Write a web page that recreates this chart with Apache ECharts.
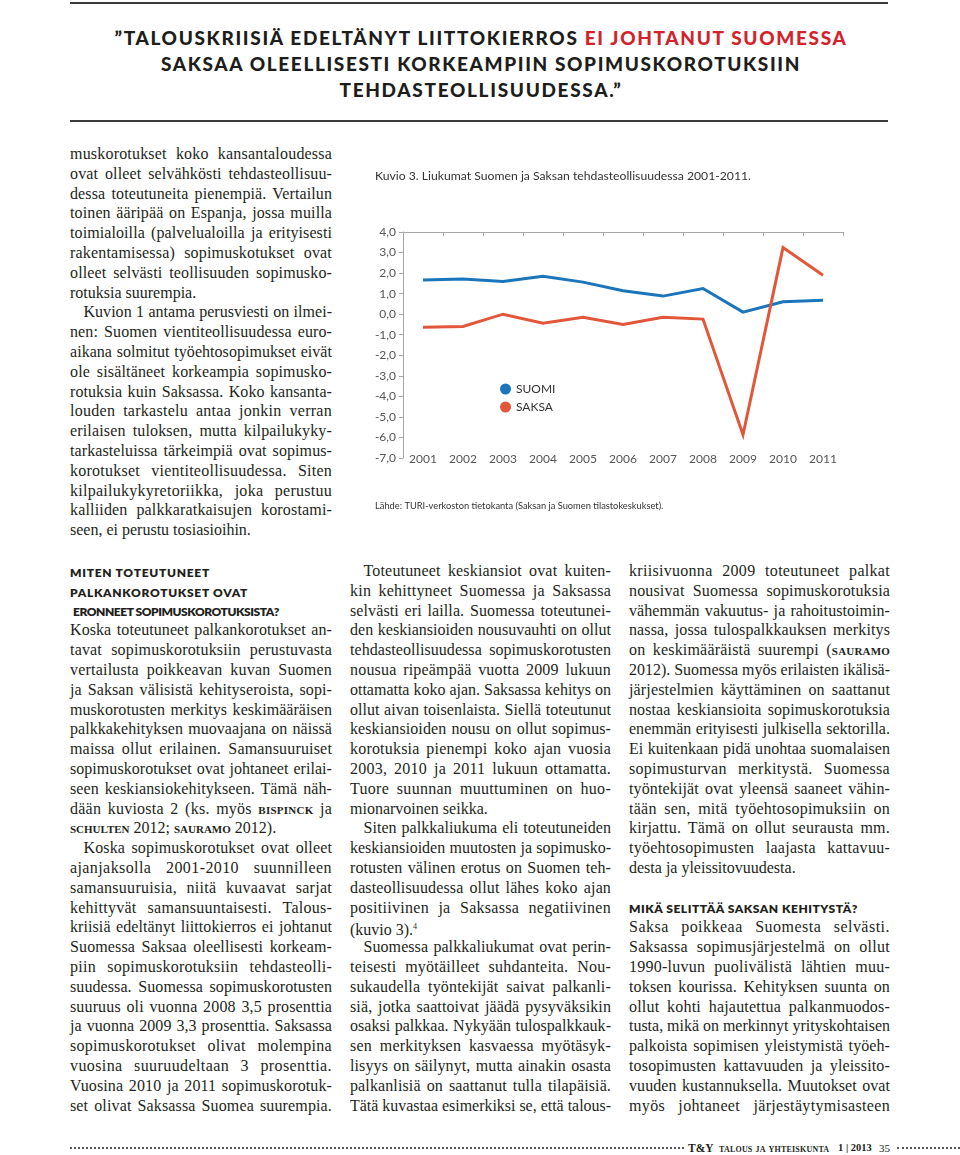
<!DOCTYPE html>
<html><head><meta charset="utf-8">
<script src="https://cdn.jsdelivr.net/npm/echarts@6/dist/echarts.min.js"></script>
<style>
html,body{margin:0;padding:0;background:#fff;}
body{width:960px;height:1155px;position:relative;overflow:hidden;}
.rule{position:absolute;left:70px;width:818px;background:#3a3a3a;}
.ln{position:absolute;white-space:nowrap;height:19.8px;line-height:19.8px;font-family:"Liberation Serif";font-size:16px;color:#231f20;}
.ln>span{display:inline-block;transform-origin:0 50%;}
.hd{font-family:Lato;font-weight:800;font-size:12px;color:#231f20;}
.sc{font-variant:small-caps;font-weight:bold;}
.top{position:absolute;left:0;width:962px;text-align:center;white-space:nowrap;font-family:Lato;font-weight:900;font-size:19px;line-height:26px;height:26px;color:#1d1d1b;}
.top>span{display:inline-block;}
.red{color:#d2232a;}
#chart{position:absolute;left:370px;top:160px;width:490px;height:370px;}
.dots{position:absolute;top:1147px;height:0;border-top:2px dotted #555;}
.ft{position:absolute;top:1140px;font-family:"Liberation Serif";font-size:11px;color:#231f20;line-height:16px;white-space:nowrap;}
</style></head>
<body>
<div class="rule" style="top:2px;height:2px;"></div>
<div class="rule" style="top:120px;height:1.5px;"></div>
<div class="top" style="top:25px;"><span data-w="733">”TALOUSKRIISIÄ EDELTÄNYT LIITTOKIERROS <span class="red">EI JOHTANUT SUOMESSA</span></span></div>
<div class="top" style="top:51px;"><span data-w="640">SAKSAA OLEELLISESTI KORKEAMPIIN SOPIMUSKOROTUKSIIN</span></div>
<div class="top" style="top:77px;"><span data-w="283">TEHDASTEOLLISUUDESSA.”</span></div>
<div id="chart"></div>
<div class="dots" style="left:70px;width:614px;"></div>
<div class="dots" style="left:897px;width:63px;"></div>
<div class="ft" style="left:688px;font-weight:bold;font-size:11.5px;">T&amp;Y</div>
<div class="ft" style="left:719px;font-weight:bold;font-variant:small-caps;font-size:11px;letter-spacing:0.2px;">talous ja yhteiskunta</div>
<div class="ft" style="left:838px;font-weight:bold;font-size:10.5px;">1 | 2013</div>
<div class="ft" style="left:879px;font-size:11px;">35</div>
<script>
// ---------- chart data ----------
const years = ['2001','2002','2003','2004','2005','2006','2007','2008','2009','2010','2011'];
const suomi = [1.66, 1.71, 1.59, 1.84, 1.56, 1.14, 0.88, 1.25, 0.10, 0.60, 0.68];
const saksa = [-0.63, -0.60, 0.00, -0.44, -0.15, -0.50, -0.15, -0.24, -5.87, 3.24, 1.89];
const seriesNames = ['SUOMI', 'SAKSA'];
const yMin = -7, yMax = 4, yStep = 1;
const chartTitle = 'Kuvio 3. Liukumat Suomen ja Saksan tehdasteollisuudessa 2001-2011.';
const sourceText = 'Lähde: TURI-verkoston tietokanta (Saksan ja Suomen tilastokeskukset).';

// ---------- page text ----------
const colTopLeft = {x:70, y:156, w:262, lines:[
'j:muskorotukset koko kansantaloudessa',
'j:ovat olleet selvähkösti tehdasteollisuu-',
'j:dessa toteutuneita pienempiä. Vertailun',
'j:toinen ääripää on Espanja, jossa muilla',
'j:toimialoilla (palvelualoilla ja erityisesti',
'j:rakentamisessa) sopimuskotukset ovat',
'j:olleet selvästi teollisuuden sopimusko-',
'l:rotuksia suurempia.',
'i:Kuvion 1 antama perusviesti on ilmei-',
'j:nen: Suomen vientiteollisuudessa euro-',
'j:aikana solmitut työehtosopimukset eivät',
'j:ole sisältäneet korkeampia sopimusko-',
'j:rotuksia kuin Saksassa. Koko kansanta-',
'j:louden tarkastelu antaa jonkin verran',
'j:erilaisen tuloksen, mutta kilpailukyky-',
'j:tarkasteluissa tärkeimpiä ovat sopimus-',
'j:korotukset vientiteollisuudessa. Siten',
'j:kilpailukykyretoriikka, joka perustuu',
'j:kalliiden palkkaratkaisujen korostami-',
'l:seen, ei perustu tosiasioihin.'
]};
const colB1 = {x:70, y:573, w:262, lines:[
'h140:MITEN TOTEUTUNEET',
'h178:PALKANKOROTUKSET OVAT',
'H206:ERONNEET SOPIMUSKOROTUKSISTA?',
'j:Koska toteutuneet palkankorotukset an-',
'j:tavat sopimuskorotuksiin perustuvasta',
'j:vertailusta poikkeavan kuvan Suomen',
'j:ja Saksan välisistä kehityseroista, sopi-',
'j:muskorotusten merkitys keskimääräisen',
'j:palkkakehityksen muovaajana on näissä',
'j:maissa ollut erilainen. Samansuuruiset',
'j:sopimuskorotukset ovat johtaneet erilai-',
'j:seen keskiansiokehitykseen. Tämä näh-',
'j:dään kuviosta 2 (ks. myös <span class="sc">bispinck</span> ja',
'l:<span class="sc">schulten</span> 2012; <span class="sc">sauramo</span> 2012).',
'i:Koska sopimuskorotukset ovat olleet',
'j:ajanjaksolla 2001-2010 suunnilleen',
'j:samansuuruisia, niitä kuvaavat sarjat',
'j:kehittyvät samansuuntaisesti. Talous-',
'j:kriisiä edeltänyt liittokierros ei johtanut',
'j:Suomessa Saksaa oleellisesti korkeam-',
'j:piin sopimuskorotuksiin tehdasteolli-',
'j:suudessa. Suomessa sopimuskorotusten',
'j:suuruus oli vuonna 2008 3,5 prosenttia',
'j:ja vuonna 2009 3,3 prosenttia. Saksassa',
'j:sopimuskorotukset olivat molempina',
'j:vuosina suuruudeltaan 3 prosenttia.',
'j:Vuosina 2010 ja 2011 sopimuskorotuk-',
'j:set olivat Saksassa Suomea suurempia.'
]};
const colB2 = {x:350, y:573, w:261, lines:[
'i:Toteutuneet keskiansiot ovat kuiten-',
'j:kin kehittyneet Suomessa ja Saksassa',
'j:selvästi eri lailla. Suomessa toteutunei-',
'j:den keskiansioiden nousuvauhti on ollut',
'j:tehdasteollisuudessa sopimuskorotusten',
'j:nousua ripeämpää vuotta 2009 lukuun',
'j:ottamatta koko ajan. Saksassa kehitys on',
'j:ollut aivan toisenlaista. Siellä toteutunut',
'j:keskiansioiden nousu on ollut sopimus-',
'j:korotuksia pienempi koko ajan vuosia',
'j:2003, 2010 ja 2011 lukuun ottamatta.',
'j:Tuore suunnan muuttuminen on huo-',
'l:mionarvoinen seikka.',
'i:Siten palkkaliukuma eli toteutuneiden',
'j:keskiansioiden muutosten ja sopimusko-',
'j:rotusten välinen erotus on Suomen teh-',
'j:dasteollisuudessa ollut lähes koko ajan',
'j:positiivinen ja Saksassa negatiivinen',
'l:(kuvio 3).<sup style="font-size:8px;vertical-align:6px;">4</sup>',
'i:Suomessa palkkaliukumat ovat perin-',
'j:teisesti myötäilleet suhdanteita. Nou-',
'j:sukaudella työntekijät saivat palkanli-',
'j:siä, jotka saattoivat jäädä pysyväksikin',
'j:osaksi palkkaa. Nykyään tulospalkkauk-',
'j:sen merkityksen kasvaessa myötäsyk-',
'j:lisyys on säilynyt, mutta ainakin osasta',
'j:palkanlisiä on saattanut tulla tilapäisiä.',
'j:Tätä kuvastaa esimerkiksi se, että talous-'
]};
const colB3 = {x:629, y:573, w:261, lines:[
'j:kriisivuonna 2009 toteutuneet palkat',
'j:nousivat Suomessa sopimuskorotuksia',
'j:vähemmän vakuutus- ja rahoitustoimin-',
'j:nassa, jossa tulospalkkauksen merkitys',
'j:on keskimääräistä suurempi (<span class="sc">sauramo</span>',
'j:2012). Suomessa myös erilaisten ikälisä-',
'j:järjestelmien käyttäminen on saattanut',
'j:nostaa keskiansioita sopimuskorotuksia',
'j:enemmän erityisesti julkisella sektorilla.',
'j:Ei kuitenkaan pidä unohtaa suomalaisen',
'j:sopimusturvan merkitystä. Suomessa',
'j:työntekijät ovat yleensä saaneet vähin-',
'j:tään sen, mitä työehtosopimuksiin on',
'j:kirjattu. Tämä on ollut seurausta mm.',
'j:työehtosopimusten laajasta kattavuu-',
'l:desta ja yleissitovuudesta.',
'e:',
'h229:MIKÄ SELITTÄÄ SAKSAN KEHITYSTÄ?',
'j:Saksa poikkeaa Suomesta selvästi.',
'j:Saksassa sopimusjärjestelmä on ollut',
'j:1990-luvun puolivälistä lähtien muu-',
'j:toksen kourissa. Kehityksen suunta on',
'j:ollut kohti hajautettua palkanmuodos-',
'j:tusta, mikä on merkinnyt yrityskohtaisen',
'j:palkoista sopimisen yleistymistä työeh-',
'j:tosopimusten kattavuuden ja yleissito-',
'j:vuuden kustannuksella. Muutokset ovat',
'j:myös johtaneet järjestäytymisasteen'
]};

const LH = 19.8, INDENT = 13.5;
function buildCol(col){
  col.lines.forEach((s,k)=>{
    const i = s.indexOf(':');
    const code = s.slice(0,i), html = s.slice(i+1);
    if(code==='e') return;
    const d = document.createElement('div');
    d.className = 'ln';
    const cy = col.y + k*LH;
    let left = col.x, target = col.w, mode = 'j';
    if(code==='i'){ left += INDENT; target -= INDENT; }
    if(code==='l'){ mode = 'l'; }
    if(code[0]==='h' || code[0]==='H'){
      d.classList.add('hd'); mode = 'h'; target = +code.slice(1);
      if(code[0]==='H'){ left += 3; }
      d.style.top = (cy - 10.2) + 'px';
    } else {
      d.style.top = (cy - 12.0) + 'px';
    }
    d.style.left = left + 'px';
    const sp = document.createElement('span');
    sp.innerHTML = html;
    d.appendChild(sp);
    document.body.appendChild(d);
    fitLine(sp, target, mode);
  });
}
function fitLine(sp, target, mode){
  const w = sp.getBoundingClientRect().width;
  const txt = sp.textContent;
  if(mode==='h'){
    sp.style.letterSpacing = ((target - w)/txt.length) + 'px';
    return;
  }
  if(w > target){ sp.style.transform = 'scaleX(' + (target/w) + ')'; return; }
  if(mode==='l') return;
  const extra = target - w;
  const nChars = txt.length;
  const ls = Math.min(0.4*extra/nChars, 0.8);
  sp.style.letterSpacing = ls + 'px';
  const w2 = sp.getBoundingClientRect().width;
  const spaces = (txt.match(/ /g)||[]).length;
  if(spaces>0) sp.style.wordSpacing = ((target - w2)/spaces) + 'px';
}
[colTopLeft, colB1, colB2, colB3].forEach(buildCol);
document.querySelectorAll('.top>span[data-w]').forEach(sp=>{
  const w = sp.getBoundingClientRect().width;
  sp.style.letterSpacing = ((+sp.dataset.w - w)/sp.textContent.length) + 'px';
});

// ---------- chart ----------
const chart = echarts.init(document.getElementById('chart'), null, {renderer:'canvas'});
const axisColor = '#a6a6a6';
const labelFont = 'Lato';
chart.setOption({
  animation:false,
  title:{text:chartTitle, left:5, top:10, padding:0, textStyle:{fontFamily:labelFont, fontWeight:'normal', fontSize:12.2, color:'#333'}},
  legend:{
    orient:'vertical', left:130, top:223, padding:0, itemWidth:11, itemHeight:11, itemGap:6,
    icon:'circle', data:seriesNames,
    textStyle:{fontFamily:labelFont, fontSize:12, color:'#333'}
  },
  grid:{left:33, top:72, width:440, height:226, containLabel:false},
  xAxis:[
    {type:'category', data:years, position:'bottom', boundaryGap:true,
     axisLine:{show:false}, axisTick:{show:false},
     axisLabel:{fontFamily:labelFont, fontSize:12, color:'#555', margin:1, verticalAlign:'middle', padding:[6,0,0,0]}},
    {type:'category', data:years, position:'top', boundaryGap:true,
     axisLine:{show:true, onZero:true, lineStyle:{color:axisColor, width:1}},
     axisTick:{show:true, inside:true, length:4, lineStyle:{color:axisColor}},
     axisLabel:{show:false}}
  ],
  yAxis:{type:'value', min:yMin, max:yMax, interval:yStep,
    axisLine:{show:true, lineStyle:{color:axisColor, width:1}},
    axisTick:{show:true, length:4, lineStyle:{color:axisColor}},
    splitLine:{show:false},
    axisLabel:{fontFamily:labelFont, fontSize:12, color:'#555', margin:7,
      formatter:v=>v.toFixed(1).replace('.',',')}},
  graphic:[{type:'text', left:5, top:341, style:{text:sourceText, fontFamily:labelFont, fontSize:9.3, fill:'#333'}}],
  series:[
    {name:seriesNames[0], type:'line', data:suomi, xAxisIndex:0, symbol:'none', color:'#1b75bb',
     lineStyle:{width:3, join:'miter', miterLimit:10}},
    {name:seriesNames[1], type:'line', data:saksa, xAxisIndex:0, symbol:'none', color:'#e2563a',
     lineStyle:{width:3, join:'miter', miterLimit:10}}
  ]
});
</script>
</body></html>
